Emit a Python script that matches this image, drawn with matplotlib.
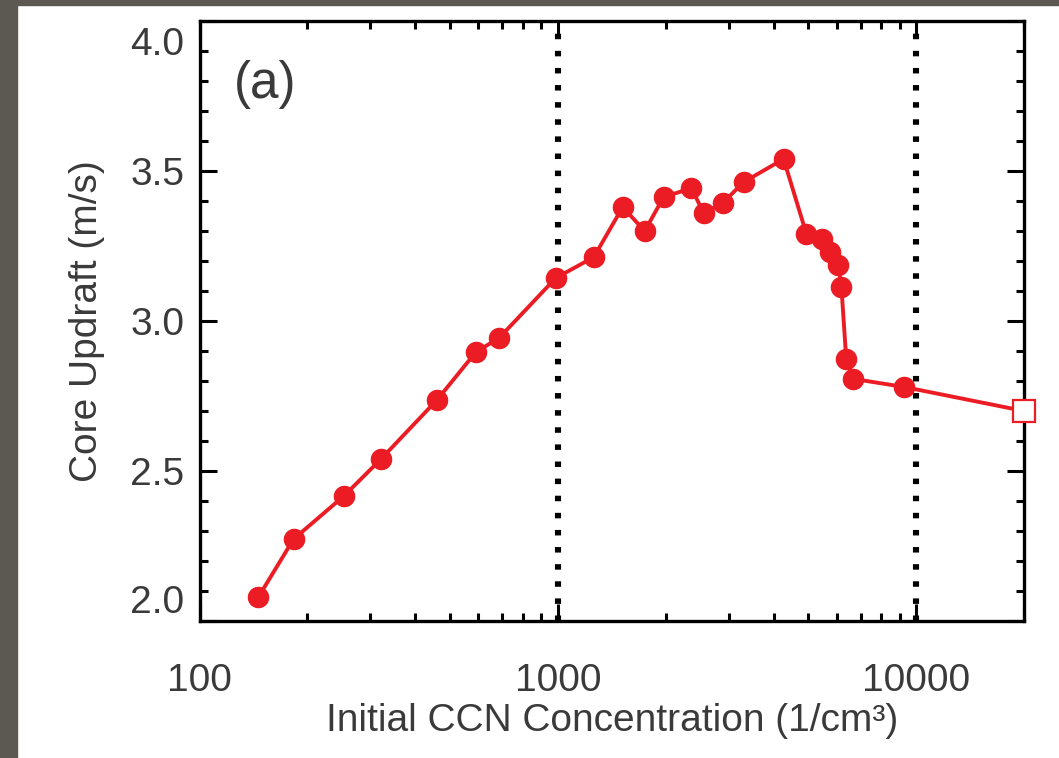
import matplotlib
matplotlib.use('Agg')
import matplotlib.pyplot as plt
from matplotlib.patches import Rectangle
from matplotlib.ticker import MultipleLocator, NullFormatter
from matplotlib.transforms import ScaledTranslation

# data
ccn = [146, 183, 253, 321, 460, 591, 685, 986, 1260, 1517, 1747, 1973, 2360,
       2551, 2882, 3300, 4266, 4940, 5475, 5730, 6066, 6185, 6380, 6680, 9268, 20000]
updraft = [2.08, 2.273, 2.417, 2.54, 2.737, 2.897, 2.943, 3.143, 3.213, 3.38, 3.30,
           3.413, 3.443, 3.36, 3.393, 3.463, 3.54, 3.29, 3.273, 3.23, 3.187, 3.113,
           2.873, 2.807, 2.78, 2.70]
ref_lines = [1000, 10000]
xticks = [100, 1000, 10000]
xticklabels = ['100', '1000', '10000']
yticks = [2.0, 2.5, 3.0, 3.5, 4.0]
yticklabels = ['2.0', '2.5', '3.0', '3.5', '4.0']

plt.rcParams['font.family'] = ['Liberation Sans', 'DejaVu Sans']
txt = '#3a3a3a'
red = '#ec1c24'

fig = plt.figure(figsize=(10.59, 7.58), dpi=100)
fig.patches.append(Rectangle((0, 0), 17 / 1059, 1, transform=fig.transFigure,
                             color='#5c5852', zorder=-10))
fig.patches.append(Rectangle((0, 1 - 5 / 758), 1, 5 / 758, transform=fig.transFigure,
                             color='#5c5852', zorder=-10))

ax = fig.add_axes([0.1884, 0.1807, 0.7786, 0.7916])
ax.set_xscale('log')
ax.set_xlim(100, 20000)
ax.set_ylim(2.0, 4.0)

for xv in ref_lines:
    ax.axvline(xv, color='black', lw=4.4, linestyle=(0, (0.9, 1.9)),
               dash_capstyle='butt', zorder=1)

ax.plot(ccn[:-1], updraft[:-1], color=red, lw=2.8, marker='o', ms=14.5,
        mec=red, mfc=red, zorder=3)
ax.plot(ccn[-2:], updraft[-2:], color=red, lw=2.8, zorder=3)
ax.plot(ccn[-1:], updraft[-1:], linestyle='none', marker='s', ms=16, mfc='white',
        mec=red, mew=1.6, zorder=4, clip_on=False)

ax.set_xticks(xticks)
ax.set_xticklabels(xticklabels)
ax.xaxis.set_minor_formatter(NullFormatter())
ax.set_yticks(yticks)
ax.set_yticklabels(yticklabels)
ax.yaxis.set_minor_locator(MultipleLocator(0.1))

ax.tick_params(which='both', direction='in', top=True, right=True, width=2.2,
               colors='black', labelcolor=txt, labelsize=28)
ax.tick_params(which='major', length=12)
ax.tick_params(which='minor', length=6)
ax.tick_params(axis='y', pad=11)
ax.tick_params(axis='x', pad=30)
for s in ax.spines.values():
    s.set_linewidth(2.4)

labs = ax.get_yticklabels()
labs[0].set_va('bottom')
labs[-1].set_va('top')
labs[-1].set_transform(labs[-1].get_transform() +
                       ScaledTranslation(0, -4 / 72, fig.dpi_scale_trans))

ax.set_xlabel('Initial CCN Concentration (1/cm³)', fontsize=28, color=txt)
ax.set_ylabel('Core Updraft (m/s)', fontsize=28, color=txt)
ax.xaxis.set_label_coords(0.5, -0.136)
ax.yaxis.set_label_coords(-0.115, 0.5)

ax.text(0.042, 0.935, '(a)', transform=ax.transAxes, fontsize=37, color=txt,
        ha='left', va='top')

plt.savefig('out.png', dpi=100)
